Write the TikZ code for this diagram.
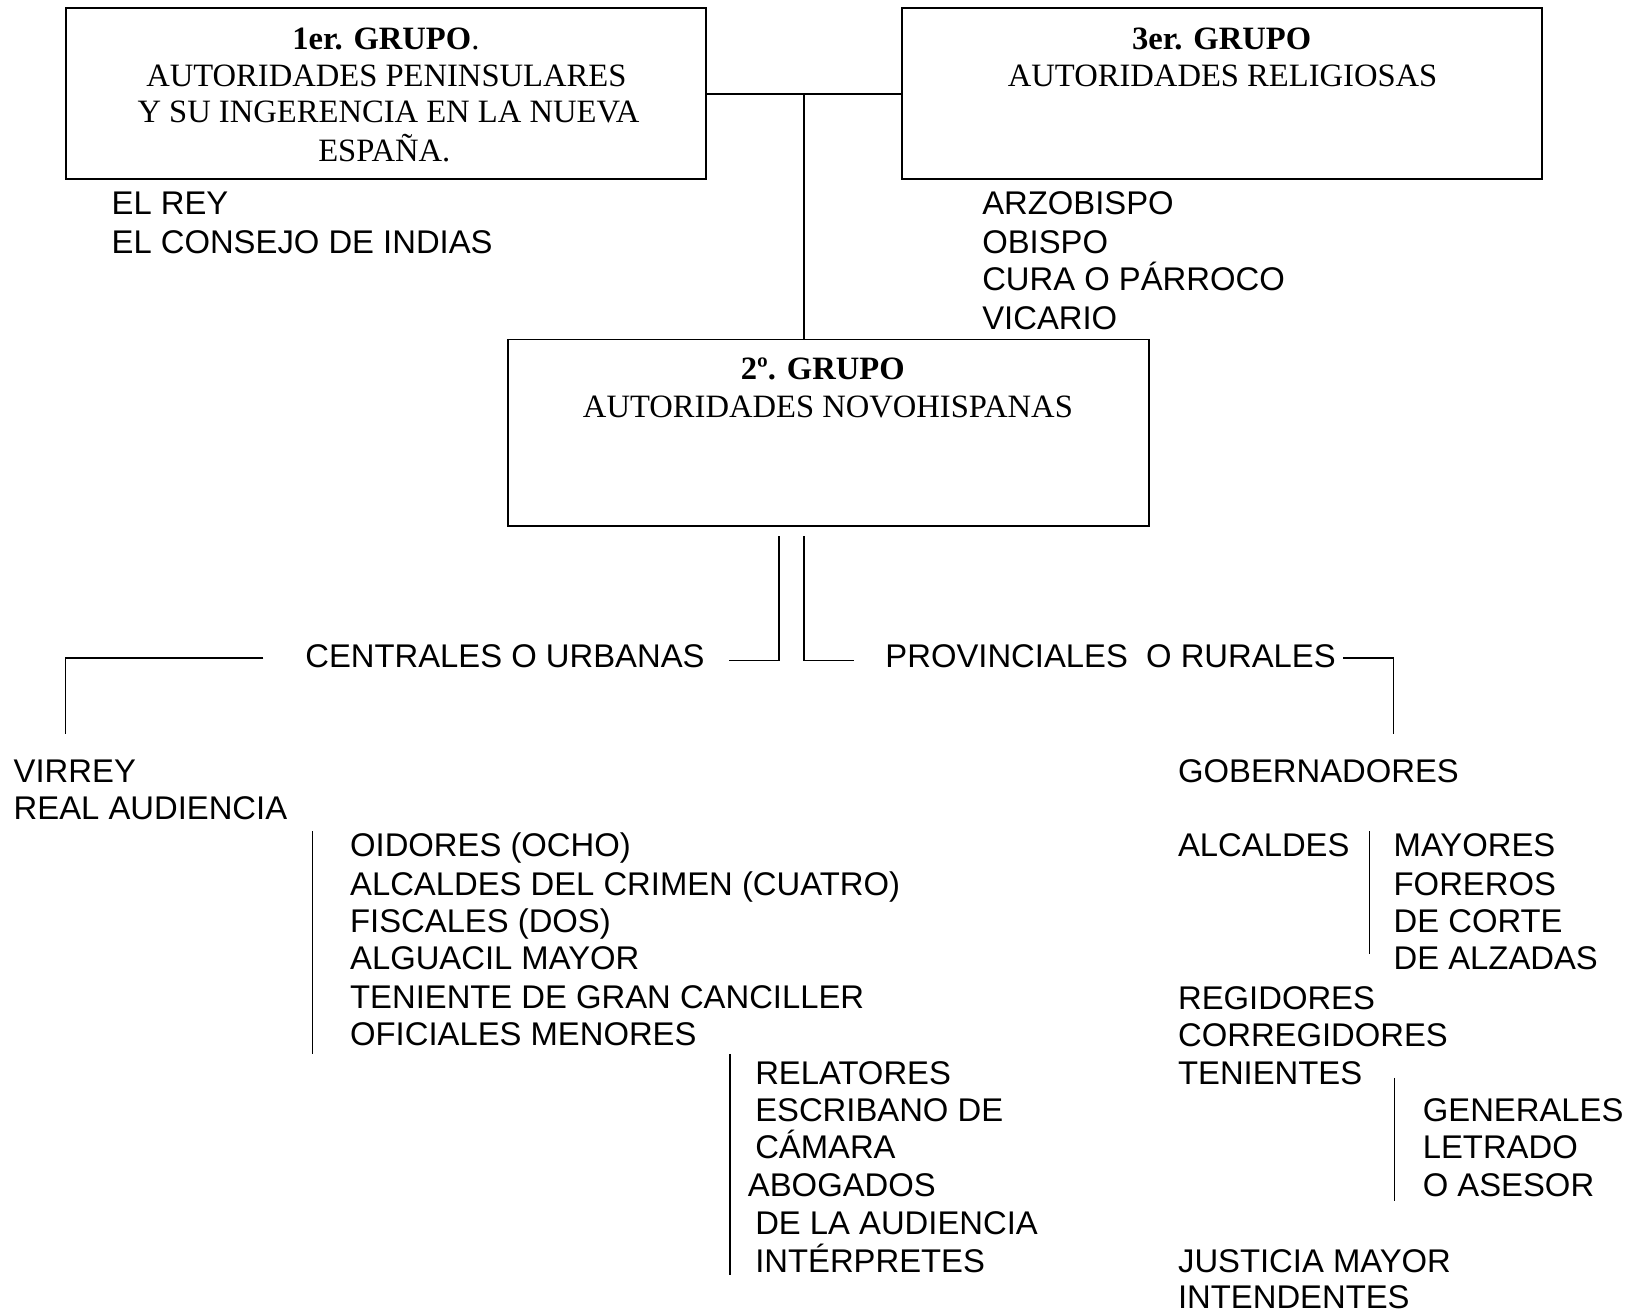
\documentclass[tikz,border=0pt]{standalone}
\usepackage{fontspec}
\setmainfont{Liberation Serif}
\newfontfamily\arialf{Liberation Sans}
\begin{document}
\begin{tikzpicture}[x=1pt,y=-1pt,
  box/.style={draw, line width=1.8pt, inner sep=0pt, minimum width=615pt},
  serift/.style={font=\fontsize{31.3}{36}\selectfont, anchor=base, inner sep=0pt},
  sanst/.style={font=\arialf\fontsize{31.5}{37}\selectfont, anchor=base west, inner sep=0pt},
  conn/.style={line width=1.5pt}]
\fill[white] (0,0) rectangle (1568,1261);
\useasboundingbox (0,0) rectangle (1568,1261);

% boxes
\node[box, minimum height=164pt] (b1) at (370.5,90) {};
\node[box, minimum height=164pt] (b3) at (1173.5,90) {};
\node[box, minimum height=179pt] (b2) at (795.5,415.5) {};

% box texts
\node[serift] (b1t1) at (370.5,48) {\textbf{1er. GRUPO}.};
\node[serift] (b1t2) at (371,83) {AUTORIDADES PENINSULARES};
\node[serift] (b1t3) at (373,118) {Y SU INGERENCIA EN LA NUEVA};
\node[serift] (b1t4) at (369,155) {ESPAÑA.};
\node[serift] (b3t1) at (1173,48) {\textbf{3er. GRUPO}};
\node[serift] (b3t2) at (1174,83) {AUTORIDADES RELIGIOSAS};
\node[serift] (b2t1) at (790,364) {\textbf{2º. GRUPO}};
\node[serift] (b2t2) at (795,401) {AUTORIDADES NOVOHISPANAS};

% connectors between boxes
\draw[conn] (b1.east) -- (b3.west);
\coordinate (j) at (772,90);
\draw[conn] (j) -- (j |- b2.north);

% lists under boxes
\foreach \t/\y [count=\i] in {EL REY/195, EL CONSEJO DE INDIAS/232}
  \node[sanst] (g1l\i) at (107,\y+11) {\t};
\foreach \t/\y [count=\i] in {ARZOBISPO/195, OBISPO/232, CURA O PÁRROCO/268, VICARIO/305}
  \node[sanst] (g3l\i) at (943,\y+11) {\t};

% branch labels
\node[sanst] (cen) at (293,641) {CENTRALES O URBANAS};
\node[sanst] (prov) at (850,641) {PROVINCIALES\ \ O RURALES};

% branch connectors
\coordinate (bl1) at (748,515);
\coordinate (bl2) at (700,634);
\coordinate (br1) at (772,515);
\coordinate (br2) at (820,634);
\draw[conn] (bl1) |- (bl2);
\draw[conn] (br1) |- (br2);
\coordinate (cl1) at (253,632);
\coordinate (cl2) at (63,705);
\draw[conn] (cl1) -| (cl2);
\coordinate (pr1) at (1290,632);
\coordinate (pr2) at (1338,705);
\draw[conn] (pr1) -| (pr2);

% central list
\foreach \t/\y [count=\i] in {VIRREY/740, REAL AUDIENCIA/776}
  \node[sanst] (c\i) at (13,\y+11) {\t};
\foreach \t/\y [count=\i] in {OIDORES (OCHO)/811, ALCALDES DEL CRIMEN (CUATRO)/849, FISCALES (DOS)/884, ALGUACIL MAYOR/920, TENIENTE DE GRAN CANCILLER/957, OFICIALES MENORES/993}
  \node[sanst] (ra\i) at (336,\y+11) {\t};
\foreach \t/\y/\x [count=\i] in {RELATORES/1030/725, ESCRIBANO DE/1066/725, CÁMARA/1101/725, ABOGADOS/1138/718, DE LA AUDIENCIA/1174/725, INTÉRPRETES/1211/725}
  \node[sanst] (om\i) at (\x,\y+11) {\t};
\coordinate (v1a) at (300,798); \coordinate (v1b) at (300,1012);
\draw[conn] (v1a) -- (v1b);
\coordinate (v2a) at (701,1012); \coordinate (v2b) at (701,1224);
\draw[conn] (v2a) -- (v2b);

% provincial list
\node[sanst] (gob) at (1131,751) {GOBERNADORES};
\node[sanst] (alc) at (1131,822) {ALCALDES};
\foreach \t/\y [count=\i] in {MAYORES/811, FOREROS/849, DE CORTE/884, DE ALZADAS/920}
  \node[sanst] (am\i) at (1338,\y+11) {\t};
\foreach \t/\y [count=\i] in {REGIDORES/958, CORREGIDORES/994, TENIENTES/1030}
  \node[sanst] (rg\i) at (1131,\y+11) {\t};
\foreach \t/\y [count=\i] in {GENERALES/1066, LETRADO/1101, O ASESOR/1138}
  \node[sanst] (tg\i) at (1366,\y+11) {\t};
\foreach \t/\y [count=\i] in {JUSTICIA MAYOR/1211, INTENDENTES/1245}
  \node[sanst] (ji\i) at (1131,\y+11) {\t};
\coordinate (v3a) at (1315,798); \coordinate (v3b) at (1315,916);
\draw[conn] (v3a) -- (v3b);
\coordinate (v4a) at (1339,1035); \coordinate (v4b) at (1339,1153);
\draw[conn] (v4a) -- (v4b);
\end{tikzpicture}
\end{document}
